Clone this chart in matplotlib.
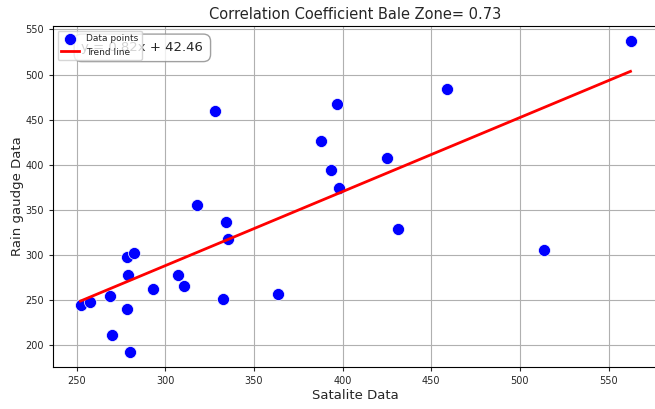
import numpy as np
import matplotlib
matplotlib.use("Agg")
import matplotlib.pyplot as plt

satellite = [252.1, 257.3, 269.0, 270.0, 278.4, 278.4, 282.2, 279.0, 279.8, 293.1,
             307.1, 310.3, 318.0, 328.0, 334.4, 335.5, 332.3, 363.6, 387.7, 393.3,
             396.9, 397.8, 425.1, 431.4, 459.0, 513.4, 562.4]
rain_gauge = [244.4, 248.1, 254.8, 211.5, 240.0, 298.1, 302.6, 278.1, 193.3, 262.6,
              278.1, 266.3, 355.6, 459.2, 336.3, 318.1, 251.9, 257.0, 426.3, 394.4,
              467.8, 374.4, 408.1, 328.5, 484.4, 305.6, 536.7]
slope = 0.82
intercept = 42.46
corr = 0.73

plt.rcParams['text.color'] = '#262626'
plt.rcParams['axes.labelcolor'] = '#262626'
plt.rcParams['xtick.color'] = '#262626'
plt.rcParams['ytick.color'] = '#262626'

fig = plt.figure(figsize=(6.55, 4.09), dpi=100)
ax = fig.add_axes([53/655, 42/409, 605/655, 341/409])

x = np.array(satellite)
y = np.array(rain_gauge)
ax.scatter(x, y, s=75, color='blue', edgecolors='white', linewidths=0.5,
           label='Data points', zorder=3)
xs = np.sort(x)
ax.plot(xs, slope * xs + intercept, color='red', lw=2, label='Trend line', zorder=4)

ax.grid(True, color='#b0b0b0', lw=0.8)
ax.set_axisbelow(True)
ax.set_title(f'Correlation Coefficient Bale Zone= {corr}', fontsize=10.5, pad=5)
ax.set_xlabel('Satalite Data', fontsize=9.5, labelpad=2)
ax.set_ylabel('Rain gaudge Data', fontsize=9.5, labelpad=1)
ax.tick_params(labelsize=7, length=3)

ax.text(0.047, 0.955, f'y = {slope}x + {intercept}', transform=ax.transAxes,
        fontsize=9.5, va='top', ha='left',
        bbox=dict(boxstyle='round,pad=0.55', facecolor='white', edgecolor='#888888', alpha=0.8))
leg = ax.legend(loc='upper left', fontsize=6.5, framealpha=0.8)
leg.set_zorder(10)

fig.savefig('out.png', dpi=100)
